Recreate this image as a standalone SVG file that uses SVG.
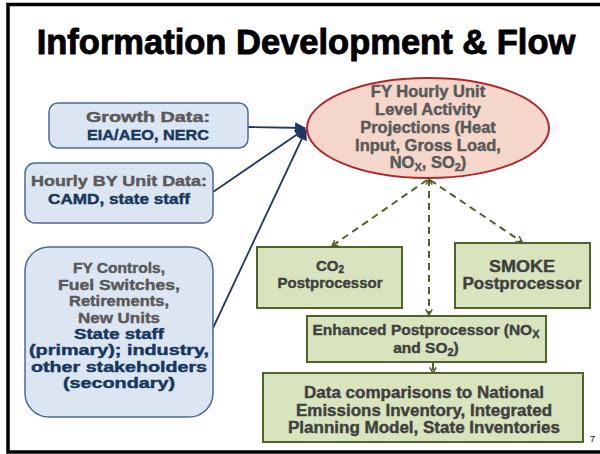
<svg xmlns="http://www.w3.org/2000/svg" width="600" height="454" viewBox="0 0 600 454">
<defs>
<style>
.t{font-family:"Liberation Sans",Arial,sans-serif;font-weight:bold;text-anchor:middle}
.g{fill:#595959;stroke:#595959;stroke-width:0.45}
.b{fill:#17375e;stroke:#17375e;stroke-width:0.45}
.d{fill:#404040;stroke:#404040;stroke-width:0.4}
.bluebox{fill:#dce6f2;stroke:#4a6b94;stroke-width:1.5}
.greenbox{fill:#d7e4bd;stroke:#4f6228;stroke-width:2}
.nav{stroke:#1f3864;stroke-width:1.8;fill:none}
.dash{stroke:#4f6228;stroke-width:2;stroke-dasharray:7 5;fill:none}
</style>
<marker id="an" viewBox="0 0 10 10" refX="9" refY="5" markerWidth="11" markerHeight="11" markerUnits="userSpaceOnUse" orient="auto">
<path d="M0,0 L10,5 L0,10 Z" fill="#1f3864"/>
</marker>
<marker id="ag" viewBox="0 0 10 10" refX="8.5" refY="5" markerWidth="8" markerHeight="8" markerUnits="userSpaceOnUse" orient="auto-start-reverse">
<path d="M1.5,1 L8.5,5 L1.5,9" fill="none" stroke="#4f6228" stroke-width="2"/>
</marker>
</defs>
<rect x="0" y="0" width="600" height="454" fill="#ffffff"/>
<path d="M610,4.5 H8 V452 H610" fill="none" stroke="#000" stroke-width="3.5"/>
<text class="t" x="306" y="54" font-size="34.5" fill="#000" stroke="#000" stroke-width="0.9">Information Development &amp; Flow</text>

<g id="connectors">
<line class="nav" x1="248" y1="127" x2="305" y2="128" marker-end="url(#an)"/>
<line class="nav" x1="213" y1="192" x2="305" y2="129" marker-end="url(#an)"/>
<line class="nav" x1="213" y1="328" x2="306" y2="130" marker-end="url(#an)"/>
<line class="dash" x1="427" y1="180" x2="332" y2="246" marker-end="url(#ag)"/>
<line class="dash" x1="430" y1="180" x2="522" y2="242" marker-end="url(#ag)"/>
<line class="dash" x1="429" y1="179" x2="429" y2="315" marker-start="url(#ag)" marker-end="url(#ag)"/>
<line class="dash" x1="433" y1="363" x2="433" y2="373" marker-end="url(#ag)"/>
</g>

<g id="growth">
<rect class="bluebox" x="49" y="103" width="199" height="45" rx="9"/>
<text class="t g" x="148" y="122" font-size="15.5" textLength="124" lengthAdjust="spacingAndGlyphs">Growth Data:</text>
<text class="t b" x="148" y="140" font-size="15.5" textLength="122" lengthAdjust="spacingAndGlyphs">EIA/AEO, NERC</text>
</g>

<g id="hourly">
<rect class="bluebox" x="25" y="163" width="188" height="60" rx="10"/>
<text class="t g" x="119" y="186" font-size="15.5" textLength="176" lengthAdjust="spacingAndGlyphs">Hourly BY Unit Data:</text>
<text class="t b" x="119" y="204" font-size="15.5" textLength="142" lengthAdjust="spacingAndGlyphs">CAMD, state staff</text>
</g>

<g id="controls">
<rect class="bluebox" x="25" y="247" width="188" height="170" rx="24"/>
<text class="t g" x="119" y="273" font-size="15.5" textLength="92" lengthAdjust="spacingAndGlyphs">FY Controls,</text>
<text class="t g" x="119" y="290" font-size="15.5" textLength="122" lengthAdjust="spacingAndGlyphs">Fuel Switches,</text>
<text class="t g" x="119" y="306" font-size="15.5" textLength="100" lengthAdjust="spacingAndGlyphs">Retirements,</text>
<text class="t g" x="119" y="323" font-size="15.5" textLength="82" lengthAdjust="spacingAndGlyphs">New Units</text>
<text class="t b" x="119" y="339" font-size="15.5" textLength="90" lengthAdjust="spacingAndGlyphs">State staff</text>
<text class="t b" x="119" y="355" font-size="15.5" textLength="180" lengthAdjust="spacingAndGlyphs">(primary); industry,</text>
<text class="t b" x="119" y="372" font-size="15.5" textLength="176" lengthAdjust="spacingAndGlyphs">other stakeholders</text>
<text class="t b" x="119" y="388" font-size="15.5" textLength="112" lengthAdjust="spacingAndGlyphs">(secondary)</text>
</g>

<g id="projections">
<ellipse cx="428" cy="128" rx="121" ry="50" fill="#f4d6cb" stroke="#b3262b" stroke-width="2"/>
<text class="t g" x="428" y="97" font-size="16.5">FY Hourly Unit</text>
<text class="t g" x="428" y="115" font-size="16.5">Level Activity</text>
<text class="t g" x="428" y="133" font-size="16.5">Projections (Heat</text>
<text class="t g" x="428" y="151" font-size="16.5">Input, Gross Load,</text>
<text class="t g" x="428" y="168" font-size="16.5">NO<tspan font-size="11" dy="3">X</tspan><tspan dy="-3">, SO</tspan><tspan font-size="11" dy="3">2</tspan><tspan dy="-3">)</tspan></text>
</g>

<g id="co2">
<rect class="greenbox" x="257" y="247" width="145" height="61"/>
<text class="t d" x="330" y="271" font-size="15">CO<tspan font-size="10" dy="2">2</tspan></text>
<text class="t d" x="330" y="288" font-size="15">Postprocessor</text>
</g>

<g id="smoke">
<rect class="greenbox" x="455" y="243" width="135" height="65"/>
<text class="t d" x="522" y="272" font-size="16" textLength="66" lengthAdjust="spacingAndGlyphs">SMOKE</text>
<text class="t d" x="522" y="289" font-size="16" textLength="119" lengthAdjust="spacingAndGlyphs">Postprocessor</text>
</g>

<g id="enhanced">
<rect class="greenbox" x="307" y="316" width="239" height="46"/>
<text class="t d" x="426" y="335" font-size="15.5">Enhanced Postprocessor (NO<tspan font-size="11" dy="3">X</tspan></text>
<text class="t d" x="426" y="353" font-size="15.5">and SO<tspan font-size="11" dy="3">2</tspan><tspan dy="-3">)</tspan></text>
</g>

<g id="comparisons">
<rect class="greenbox" x="263" y="373" width="320" height="69"/>
<text class="t d" x="424" y="398" font-size="16" textLength="240" lengthAdjust="spacingAndGlyphs">Data comparisons to National</text>
<text class="t d" x="424" y="416" font-size="16" textLength="256" lengthAdjust="spacingAndGlyphs">Emissions Inventory, Integrated</text>
<text class="t d" x="424" y="433" font-size="16" textLength="272" lengthAdjust="spacingAndGlyphs">Planning Model, State Inventories</text>
</g>

<text x="590" y="442" font-family="Liberation Sans,Arial,sans-serif" font-size="9" fill="#000">7</text>
</svg>
